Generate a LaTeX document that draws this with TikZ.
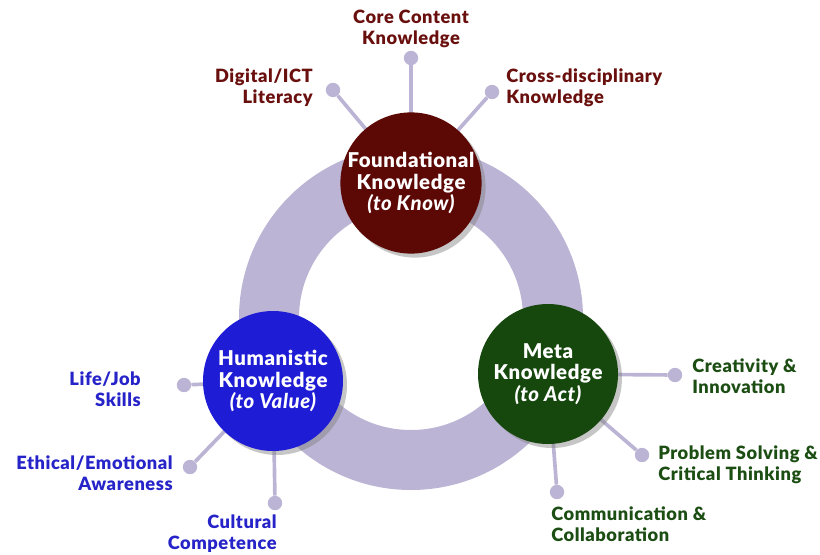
\documentclass[tikz,border=0pt]{standalone}
\usepackage{fontspec}
\setmainfont{Lato}[BoldFont={Lato Black},BoldItalicFont={Lato Black Italic}]
\newfontfamily\wideface{Lato}[BoldFont={Lato Black},BoldItalicFont={Lato Black Italic},LetterSpace=3]
\usetikzlibrary{shadows}
\definecolor{ringlilac}{RGB}{188,180,212}
\definecolor{knowred}{RGB}{92,8,4}
\definecolor{knowredtext}{RGB}{105,16,14}
\definecolor{valueblue}{RGB}{30,28,212}
\definecolor{valuebluetext}{RGB}{38,36,200}
\definecolor{actgreen}{RGB}{22,72,14}
\definecolor{actgreentext}{RGB}{28,78,20}
\begin{document}
\begin{tikzpicture}

    \tikzset{
      hub/.style={
        circle,
        fill=#1,
        text=white,
        minimum size=3.5cm,
        inner sep=0pt,
        align=center,
        font=\wideface\fontsize{14.5}{15.5}\selectfont\bfseries,
        drop shadow={shadow xshift=1mm,shadow yshift=-1mm,opacity=0.45},
      },
      knob/.style={
        circle,
        fill=ringlilac,
        minimum size=0.36cm,
        inner sep=0pt,
      },
      spoke/.style={
        draw=ringlilac,
        line width=2.6pt,
      },
      skill/.style={
        text=#1,
        inner sep=0pt,
        font=\wideface\fontsize{13}{15}\selectfont\bfseries,
      },
    }
    \useasboundingbox (-10.275,-5.9) rectangle (10.225,7.95);
	\draw[ringlilac,line width=1.5cm] (0,0) circle (3.55);

	\node[knob] (core) at (0,6.5) {};
	\node[knob] (digital) at (-1.95,5.7) {};
	\node[knob] (cross) at (2.025,5.65) {};
	\node[knob] (life) at (-5.675,-1.675) {};
	\node[knob] (ethical) at (-5.525,-3.725) {};
	\node[knob] (cultural) at (-3.4,-4.625) {};
	\node[knob] (creative) at (6.6,-1.425) {};
	\node[knob] (problem) at (5.775,-3.425) {};
	\node[knob] (commun) at (3.65,-4.35) {};

	\path (0,3.375) coordinate (knowc) (-3.45,-1.575) coordinate (valuec) (3.425,-1.4) coordinate (actc);
	\draw[spoke] (core) -- (knowc);\draw[spoke] (digital) -- (knowc);\draw[spoke] (cross) -- (knowc);
	\draw[spoke] (life) -- (valuec);\draw[spoke] (ethical) -- (valuec);\draw[spoke] (cultural) -- (valuec);
	\draw[spoke] (creative) -- (actc);\draw[spoke] (problem) -- (actc);\draw[spoke] (commun) -- (actc);

	\node[hub=knowred] (know) at (knowc) {Foundational\\Knowledge\\\itshape(to Know)};
	\node[hub=valueblue] (value) at (valuec) {Humanistic\\Knowledge\\\itshape(to Value)};
	\node[hub=actgreen] (act) at (actc) {Meta\\Knowledge\\\itshape(to Act)};

	\node[skill=knowredtext,align=center] (coretxt) at (0,7.225) {Core Content\\Knowledge};
	\node[skill=knowredtext,align=right,anchor=east] (digitaltxt) at (-2.45,5.75) {Digital/ICT\\Literacy};
	\node[skill=knowredtext,align=left,anchor=west] (crosstxt) at (2.375,5.75) {Cross-disciplinary\\Knowledge};

	\node[skill=valuebluetext,align=right,anchor=east] (lifetxt) at (-6.75,-1.775) {Life/Job\\Skills};
	\node[skill=valuebluetext,align=right,anchor=east] (ethicaltxt) at (-5.95,-3.875) {Ethical/Emotional\\Awareness};
	\node[skill=valuebluetext,align=right,anchor=east] (culturaltxt) at (-3.35,-5.4) {Cultural\\Competence};

	\node[skill=actgreentext,align=left,anchor=west] (creativetxt) at (7.025,-1.45) {Creativity \&\\Innovation};
	\node[skill=actgreentext,align=left,anchor=west] (problemtxt) at (6.175,-3.675) {Problem Solving \&\\Critical Thinking};
	\node[skill=actgreentext,align=left,anchor=west] (communtxt) at (3.5,-5.15) {Communication \&\\Collaboration};

\end{tikzpicture}
\end{document}
